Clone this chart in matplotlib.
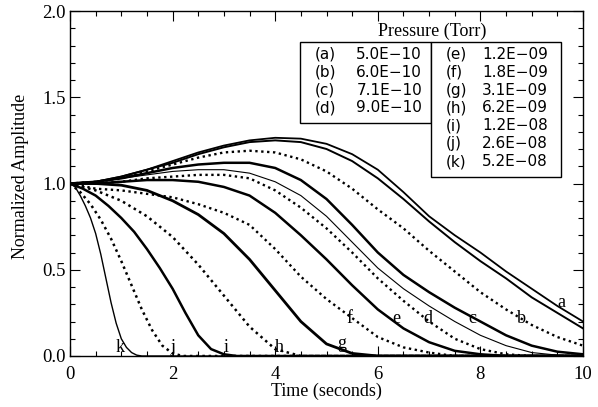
import matplotlib.pyplot as plt
from matplotlib.ticker import MultipleLocator
from matplotlib.patches import Rectangle

# time grids (seconds)
t_slow = [0, 0.5, 1, 1.5, 2, 2.5, 3, 3.5, 4, 4.5, 5,
          5.5, 6, 6.5, 7, 7.5, 8, 8.5, 9, 9.5, 10]
t_i = [0, 0.25, 0.5, 0.75, 1, 1.25, 1.5, 1.75, 2, 2.25, 2.5, 2.75, 3, 3.25, 10]
t_j = [0, 0.2, 0.4, 0.6, 0.8, 1.0, 1.2, 1.4, 1.6, 1.8, 2.0, 2.2, 10]
t_k = [0, 0.1, 0.2, 0.3, 0.4, 0.5, 0.6, 0.7, 0.8, 0.9, 1.0, 1.1, 1.2, 1.3, 1.4, 10]

# normalized amplitudes
amp_a = [1.0, 1.01, 1.04, 1.08, 1.13, 1.18, 1.22, 1.25, 1.265, 1.26, 1.23,
         1.17, 1.08, 0.95, 0.81, 0.70, 0.60, 0.49, 0.39, 0.29, 0.20]
amp_a2 = [1.0, 1.01, 1.04, 1.08, 1.12, 1.17, 1.21, 1.24, 1.25, 1.24, 1.20,
          1.13, 1.03, 0.91, 0.78, 0.66, 0.55, 0.45, 0.34, 0.25, 0.16]
amp_b = [1.0, 1.01, 1.03, 1.07, 1.11, 1.15, 1.18, 1.19, 1.18, 1.14, 1.07,
         0.97, 0.85, 0.74, 0.61, 0.49, 0.37, 0.27, 0.18, 0.11, 0.06]
amp_c = [1.0, 1.01, 1.03, 1.06, 1.09, 1.11, 1.12, 1.12, 1.09, 1.02, 0.91,
         0.76, 0.60, 0.47, 0.37, 0.28, 0.20, 0.12, 0.06, 0.025, 0.01]
amp_d = [1.0, 1.0, 1.01, 1.03, 1.04, 1.05, 1.05, 1.03, 0.96, 0.86, 0.74,
         0.60, 0.45, 0.32, 0.20, 0.10, 0.04, 0.01, 0, 0, 0]
amp_d2 = [1.0, 1.01, 1.03, 1.05, 1.07, 1.08, 1.08, 1.06, 1.01, 0.93, 0.81,
          0.66, 0.51, 0.39, 0.29, 0.20, 0.12, 0.06, 0.02, 0.005, 0]
amp_e = [1.0, 1.0, 1.01, 1.02, 1.02, 1.01, 0.98, 0.93, 0.83, 0.70, 0.56,
         0.41, 0.27, 0.16, 0.08, 0.03, 0.01, 0, 0, 0, 0]
amp_f = [1.0, 0.97, 0.96, 0.94, 0.92, 0.88, 0.83, 0.76, 0.62, 0.46, 0.33,
         0.22, 0.11, 0.05, 0.02, 0, 0, 0, 0, 0, 0]
amp_g = [1.0, 1.0, 0.99, 0.96, 0.90, 0.82, 0.71, 0.56, 0.38, 0.20, 0.07,
         0.015, 0, 0, 0, 0, 0, 0, 0, 0, 0]
amp_h = [1.0, 0.96, 0.90, 0.81, 0.69, 0.53, 0.35, 0.17, 0.04, 0, 0,
         0, 0, 0, 0, 0, 0, 0, 0, 0, 0]
amp_i = [1.0, 0.97, 0.93, 0.87, 0.80, 0.72, 0.62, 0.51, 0.39, 0.25, 0.12,
         0.04, 0.01, 0, 0]
amp_j = [1.0, 0.95, 0.88, 0.79, 0.68, 0.55, 0.41, 0.27, 0.15, 0.06, 0.015, 0, 0]
amp_k = [1.0, 0.98, 0.93, 0.87, 0.80, 0.71, 0.59, 0.45, 0.31, 0.19, 0.10,
         0.05, 0.02, 0.005, 0, 0]

letters = ['a', 'b', 'c', 'd', 'e', 'f', 'g', 'h', 'i', 'j', 'k']
pressures = ['5.0E-10', '6.0E-10', '7.1E-10', '9.0E-10', '1.2E-09', '1.8E-09',
             '3.1E-09', '6.2E-09', '1.2E-08', '2.6E-08', '5.2E-08']

solid = dict(color='black', linestyle='-')
dots = dict(color='black', linestyle=(0, (1, 1.5)))

curves = [
    (t_slow, amp_a, solid, 1.3),
    (t_slow, amp_a2, solid, 1.4),
    (t_slow, amp_b, dots, 1.7),
    (t_slow, amp_c, solid, 1.8),
    (t_slow, amp_d, dots, 1.7),
    (t_slow, amp_d2, solid, 0.8),
    (t_slow, amp_e, solid, 1.8),
    (t_slow, amp_f, dots, 1.7),
    (t_slow, amp_g, solid, 2.0),
    (t_slow, amp_h, dots, 1.8),
    (t_i, amp_i, solid, 1.8),
    (t_j, amp_j, dots, 1.8),
    (t_k, amp_k, solid, 1.0),
]

# where the curve letters sit
label_pos = [(9.57, 0.31), (8.8, 0.22), (7.84, 0.22), (6.97, 0.22),
             (6.36, 0.22), (5.45, 0.22), (5.29, 0.07), (4.09, 0.05),
             (3.05, 0.05), (2.0, 0.05), (0.97, 0.05)]

plt.rcParams['font.family'] = ['Liberation Serif', 'DejaVu Serif']

fig = plt.figure(figsize=(5.98, 4.07), dpi=100)
ax = fig.add_axes([70 / 598, 1 - 356 / 407, 513 / 598, 345 / 407])

for t, amp, st, lw in curves:
    ax.plot(t, amp, lw=lw, **st)

for (x, y), s in zip(label_pos, letters):
    ax.text(x, y, s, fontsize=13, ha='center', va='center', zorder=5)

ax.set_xlim(0, 10)
ax.set_ylim(0, 2.0)
ax.xaxis.set_minor_locator(MultipleLocator(0.5))
ax.yaxis.set_minor_locator(MultipleLocator(0.1))
ax.set_xticks([0, 2, 4, 6, 8, 10])
ax.set_xticklabels(['0', '2', '4', '6', '8', '10'])
ax.set_yticks([0, 0.5, 1.0, 1.5, 2.0])
ax.set_yticklabels(['0.0', '0.5', '1.0', '1.5', '2.0'])
ax.tick_params(which='both', direction='in', top=True, right=True,
               labelsize=13.5, width=0.8)
ax.tick_params(which='major', length=7)
ax.tick_params(which='minor', length=3.5)
ax.tick_params(axis='x', pad=7)
ax.tick_params(axis='y', pad=3)
for sp in ax.spines.values():
    sp.set_linewidth(1.0)

ax.set_xlabel('Time (seconds)', fontsize=13)
ax.set_ylabel('Normalized Amplitude', fontsize=13)
ax.xaxis.set_label_coords(0.5, -0.078)
ax.yaxis.set_label_coords(-0.08, 0.52)

# pressure legend
ax.text(7.06, 1.88, 'Pressure (Torr)', fontsize=13, ha='center', va='center')
ax.add_patch(Rectangle((4.49, 1.35), 2.55, 0.47, fill=True, fc='white',
                       ec='black', lw=1.0, zorder=6))
ax.add_patch(Rectangle((7.04, 1.04), 2.53, 0.78, fill=True, fc='white',
                       ec='black', lw=1.0, zorder=6))
for n, (s, p) in enumerate(zip(letters, pressures)):
    if n < 4:
        x0, x1, row = 4.77, 5.58, n
    else:
        x0, x1, row = 7.33, 8.03, n - 4
    y = 1.75 - 0.104 * row
    ax.text(x0, y, '(%s)' % s, fontsize=11, family='DejaVu Sans',
            va='center', zorder=7)
    ax.text(x1, y, p.replace('-', '\u2212'), fontsize=11,
            family='DejaVu Sans', va='center', zorder=7)

fig.savefig('out.png', dpi=100)
